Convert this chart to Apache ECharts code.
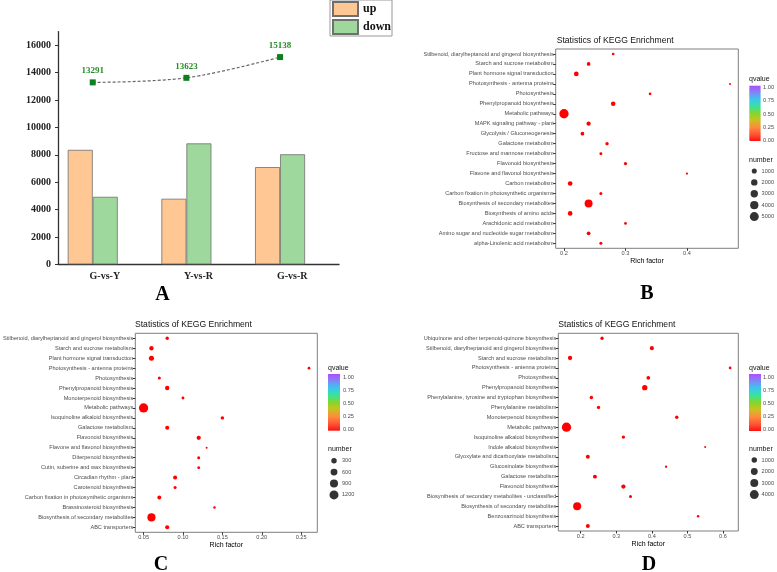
<!DOCTYPE html>
<html><head><meta charset="utf-8">
<script src="https://cdn.jsdelivr.net/npm/echarts@6/dist/echarts.min.js"></script>
<style>html,body{margin:0;padding:0;background:#fff}#c{width:777px;height:572px}</style>
</head><body><div id="c"></div>
<script>
// ---------- Panel A ----------
const aCategories = ['G-vs-Y', 'Y-vs-R', 'G-vs-R'];
const aUp = [8360, 4790, 7100];
const aDown = [4931, 8833, 8038];
const aTotal = [13291, 13623, 15138];
const aYTicks = [0, 2000, 4000, 6000, 8000, 10000, 12000, 14000, 16000];

// ---------- Panel B ----------
const bPathways = [
  'Stilbenoid, diarylheptanoid and gingerol biosynthesis',
  'Starch and sucrose metabolism',
  'Plant hormone signal transduction',
  'Photosynthesis - antenna proteins',
  'Photosynthesis',
  'Phenylpropanoid biosynthesis',
  'Metabolic pathways',
  'MAPK signaling pathway - plant',
  'Glycolysis / Gluconeogenesis',
  'Galactose metabolism',
  'Fructose and mannose metabolism',
  'Flavonoid biosynthesis',
  'Flavone and flavonol biosynthesis',
  'Carbon metabolism',
  'Carbon fixation in photosynthetic organisms',
  'Biosynthesis of secondary metabolites',
  'Biosynthesis of amino acids',
  'Arachidonic acid metabolism',
  'Amino sugar and nucleotide sugar metabolism',
  'alpha-Linolenic acid metabolism'
];
const bRich = [0.28, 0.24, 0.22, 0.47, 0.34, 0.28, 0.20, 0.24, 0.23, 0.27, 0.26, 0.30, 0.40, 0.21, 0.26, 0.24, 0.21, 0.30, 0.24, 0.26];
const bNumber = [80, 330, 780, 30, 80, 700, 5500, 560, 350, 220, 130, 180, 35, 760, 140, 3700, 740, 80, 340, 140];
const bXTicks = [0.2, 0.3, 0.4];
const bSizeBreaks = [1000, 2000, 3000, 4000, 5000];

// ---------- Panel C ----------
const cPathways = [
  'Stilbenoid, diarylheptanoid and gingerol biosynthesis',
  'Starch and sucrose metabolism',
  'Plant hormone signal transduction',
  'Photosynthesis - antenna proteins',
  'Photosynthesis',
  'Phenylpropanoid biosynthesis',
  'Monoterpenoid biosynthesis',
  'Metabolic pathways',
  'Isoquinoline alkaloid biosynthesis',
  'Galactose metabolism',
  'Flavonoid biosynthesis',
  'Flavone and flavonol biosynthesis',
  'Diterpenoid biosynthesis',
  'Cutin, suberine and wax biosynthesis',
  'Circadian rhythm - plant',
  'Carotenoid biosynthesis',
  'Carbon fixation in photosynthetic organisms',
  'Brassinosteroid biosynthesis',
  'Biosynthesis of secondary metabolites',
  'ABC transporters'
];
const cRich = [0.08, 0.06, 0.06, 0.26, 0.07, 0.08, 0.10, 0.05, 0.15, 0.08, 0.12, 0.13, 0.12, 0.12, 0.09, 0.09, 0.07, 0.14, 0.06, 0.08];
const cNumber = [51, 142, 236, 22, 36, 148, 32, 1300, 62, 108, 131, 10, 35, 34, 112, 38, 104, 16, 905, 110];
const cXTicks = [0.05, 0.10, 0.15, 0.20, 0.25];
const cSizeBreaks = [300, 600, 900, 1200];

// ---------- Panel D ----------
const dPathways = [
  'Ubiquinone and other terpenoid-quinone biosynthesis',
  'Stilbenoid, diarylheptanoid and gingerol biosynthesis',
  'Starch and sucrose metabolism',
  'Photosynthesis - antenna proteins',
  'Photosynthesis',
  'Phenylpropanoid biosynthesis',
  'Phenylalanine, tyrosine and tryptophan biosynthesis',
  'Phenylalanine metabolism',
  'Monoterpenoid biosynthesis',
  'Metabolic pathways',
  'Isoquinoline alkaloid biosynthesis',
  'Indole alkaloid biosynthesis',
  'Glyoxylate and dicarboxylate metabolism',
  'Glucosinolate biosynthesis',
  'Galactose metabolism',
  'Flavonoid biosynthesis',
  'Biosynthesis of secondary metabolites - unclassified',
  'Biosynthesis of secondary metabolites',
  'Benzoxazinoid biosynthesis',
  'ABC transporters'
];
const dRich = [0.26, 0.40, 0.17, 0.62, 0.39, 0.38, 0.23, 0.25, 0.47, 0.16, 0.32, 0.55, 0.22, 0.44, 0.24, 0.32, 0.34, 0.19, 0.53, 0.22];
const dNumber = [150, 350, 450, 50, 250, 930, 200, 155, 190, 4500, 160, 10, 340, 18, 330, 440, 95, 3050, 30, 345];
const dXTicks = [0.2, 0.3, 0.4, 0.5, 0.6];
const dSizeBreaks = [1000, 2000, 3000, 4000];

const qTicks = [0, 0.25, 0.5, 0.75, 1];

// ---------- helpers ----------
const SANS = 'Liberation Sans, Arial, sans-serif';
const SERIF = 'Liberation Serif, Times New Roman, serif';
function sizeScale(arr) {
  const mn = Math.min(...arr), mx = Math.max(...arr);
  return v => 2 + 7.3 * Math.sqrt(Math.max(0, v - mn) / (mx - mn));
}
function expand(arr) {
  const mn = Math.min(...arr), mx = Math.max(...arr), r = mx - mn;
  return [mn - 0.05 * r, mx + 0.05 * r];
}
const gradient = {
  type: 'linear', x: 0, y: 0, x2: 0, y2: 1,
  colorStops: [
    {offset: 0, color: '#B24BFF'}, {offset: 0.12, color: '#7F86F5'},
    {offset: 0.25, color: '#38C8EC'}, {offset: 0.38, color: '#3BE29A'},
    {offset: 0.5, color: '#84D62A'}, {offset: 0.62, color: '#C9C21F'},
    {offset: 0.75, color: '#FF8B3D'}, {offset: 0.88, color: '#FF5535'},
    {offset: 1, color: '#FF1010'}
  ]
};

const panels = [
  {path: bPathways, rich: bRich, num: bNumber, ticks: bXTicks, dec: 1, breaks: bSizeBreaks,
   grid: {left: 555.7, top: 49, width: 182.6, height: 199.3},
   lgrid: {left: 750, top: 165.3, width: 10, height: 57},
   qgrid: {left: 749.3, top: 87.7, width: 11.3, height: 52.6},
   bar: {x: 749.3, y: 85.7, width: 11.3, height: 55.3},
   title: [556.7, 41], qv: [749, 79], nb: [749, 160], letter: ['B', 647, 294]},
  {path: cPathways, rich: cRich, num: cNumber, ticks: cXTicks, dec: 2, breaks: cSizeBreaks,
   grid: {left: 133.3, top: 333.3, width: 184, height: 199},
   lgrid: {left: 329, top: 455, width: 10, height: 45.6},
   qgrid: {left: 328, top: 377, width: 12, height: 52.7},
   bar: {x: 328, y: 374, width: 12, height: 56.7},
   title: [135, 325], qv: [328, 368.3], nb: [328, 448.7], letter: ['C', 161, 565]},
  {path: dPathways, rich: dRich, num: dNumber, ticks: dXTicks, dec: 1, breaks: dSizeBreaks,
   grid: {left: 558.3, top: 333.3, width: 180, height: 197.7},
   lgrid: {left: 750, top: 454.3, width: 10, height: 46},
   qgrid: {left: 749, top: 377, width: 12, height: 52.7},
   bar: {x: 749, y: 374, width: 12, height: 57},
   title: [558.3, 325], qv: [749, 368.3], nb: [749, 449], letter: ['D', 649, 565]}
];

const grids = [
  {left: 58, top: 31.6, width: 281, height: 232.7},   // 0: panel A visible axes
  {left: 45.9, top: 31.6, width: 281, height: 232.7}  // 1: panel A data (offset as in reference)
];
const xAxes = [
  {gridIndex: 0, type: 'category', data: aCategories,
   axisLine: {lineStyle: {color: '#333', width: 1.3}},
   axisTick: {alignWithLabel: true, length: 3, lineStyle: {color: '#333'}},
   axisLabel: {interval: 0, margin: 7, color: '#222', fontFamily: SERIF, fontWeight: 'bold', fontSize: 10}},
  {gridIndex: 1, type: 'category', data: aCategories, show: false}
];
const yAxes = [
  {gridIndex: 0, type: 'value', min: 0, max: 17000, interval: 2000,
   axisLine: {show: true, lineStyle: {color: '#333', width: 1.3}},
   axisTick: {show: true, length: 3, customValues: aYTicks, lineStyle: {color: '#333'}},
   axisLabel: {customValues: aYTicks, margin: 7, color: '#222', fontFamily: SERIF, fontWeight: 'bold', fontSize: 10,
     formatter: v => String(Math.round(v))},
   splitLine: {show: false}},
  {gridIndex: 1, type: 'value', min: 0, max: 17000, show: false, splitLine: {show: false}}
];
const series = [
  {name: 'up', type: 'bar', xAxisIndex: 1, yAxisIndex: 1, data: aUp, barWidth: 25, barGap: '0%',
   itemStyle: {color: '#FFC794', borderColor: '#6f6f6f', borderWidth: 0.8}},
  {name: 'down', type: 'bar', xAxisIndex: 1, yAxisIndex: 1, data: aDown, barWidth: 25, barGap: '0%',
   itemStyle: {color: '#9ED89C', borderColor: '#6f6f6f', borderWidth: 0.8}},
  {name: 'total', type: 'line', xAxisIndex: 1, yAxisIndex: 1, data: aTotal, smooth: 0.35,
   symbol: 'rect', symbolSize: 6, itemStyle: {color: '#0E7F1E'},
   lineStyle: {color: '#666', width: 1.2, type: [3, 2]},
   label: {show: true, position: 'top', distance: 4, color: '#2A8A2A', fontFamily: SERIF, fontWeight: 'bold', fontSize: 9}}
];
const graphics = [
  {type: 'text', x: 162.5, y: 295, style: {text: 'A', font: 'bold 20px ' + SERIF, fill: '#000', textAlign: 'center', textVerticalAlign: 'middle'}}
];

panels.forEach((p, k) => {
  const gi = grids.length;
  grids.push(Object.assign({show: true, borderColor: '#7f7f7f', borderWidth: 1, backgroundColor: '#fff'}, p.grid));
  const ext = expand(p.rich);
  const sz = sizeScale(p.num);
  xAxes.push({gridIndex: gi, type: 'value', min: ext[0], max: ext[1],
    axisLine: {show: false}, splitLine: {show: false},
    axisTick: {show: true, length: 2.5, customValues: p.ticks, lineStyle: {color: '#333'}},
    axisLabel: {customValues: p.ticks, margin: 2.5, fontSize: 5.6, color: '#4D4D4D', fontFamily: SANS,
      formatter: v => Number(v).toFixed(p.dec)},
    name: 'Rich factor', nameLocation: 'middle', nameGap: 9,
    nameTextStyle: {fontSize: 7, color: '#000', fontFamily: SANS}});
  yAxes.push({gridIndex: gi, type: 'category', data: p.path, inverse: true,
    axisLine: {show: false}, splitLine: {show: false},
    axisTick: {show: true, alignWithLabel: true, length: 2.5, lineStyle: {color: '#333'}},
    axisLabel: {interval: 0, margin: 2, fontSize: 5.6, color: '#4D4D4D', fontFamily: SANS}});
  series.push({type: 'scatter', xAxisIndex: gi, yAxisIndex: gi,
    data: p.path.map((name, i) => [p.rich[i], name, p.num[i]]),
    symbolSize: v => sz(v[2]), itemStyle: {color: '#FF0000', opacity: 1}});

  // size legend
  const li = grids.length;
  grids.push(p.lgrid);
  xAxes.push({gridIndex: li, type: 'value', min: -1, max: 1, show: false});
  yAxes.push({gridIndex: li, type: 'category', data: p.breaks.map(String), inverse: true, position: 'right',
    axisLine: {show: false}, axisTick: {show: false},
    axisLabel: {interval: 0, margin: 3, fontSize: 5.6, color: '#4D4D4D', fontFamily: SANS}});
  series.push({type: 'scatter', xAxisIndex: li, yAxisIndex: li,
    data: p.breaks.map(b => [0, String(b), b]), symbolSize: v => sz(v[2]), itemStyle: {color: '#000'}, silent: true});

  // qvalue colorbar labels
  const qi = grids.length;
  grids.push(p.qgrid);
  xAxes.push({gridIndex: qi, type: 'value', min: 0, max: 1, show: false});
  yAxes.push({gridIndex: qi, type: 'value', min: 0, max: 1, position: 'right', z: 10,
    axisLine: {show: false}, splitLine: {show: false},
    axisTick: {show: true, inside: true, length: 2, customValues: qTicks, lineStyle: {color: '#fff'}},
    axisLabel: {customValues: qTicks, margin: 3, fontSize: 5.6, color: '#4D4D4D', fontFamily: SANS,
      formatter: v => Number(v).toFixed(2)}});

  graphics.push({type: 'rect', shape: p.bar, style: {fill: gradient}, z: 1});
  graphics.push({type: 'text', x: p.title[0], y: p.title[1],
    style: {text: 'Statistics of KEGG Enrichment', font: '8.6px ' + SANS, fill: '#111', textAlign: 'left', textVerticalAlign: 'middle'}});
  graphics.push({type: 'text', x: p.qv[0], y: p.qv[1],
    style: {text: 'qvalue', font: '7px ' + SANS, fill: '#111', textAlign: 'left', textVerticalAlign: 'middle'}});
  graphics.push({type: 'text', x: p.nb[0], y: p.nb[1],
    style: {text: 'number', font: '7px ' + SANS, fill: '#111', textAlign: 'left', textVerticalAlign: 'middle'}});
  graphics.push({type: 'text', x: p.letter[1], y: p.letter[2],
    style: {text: p.letter[0], font: 'bold 20px ' + SERIF, fill: '#000', textAlign: 'center', textVerticalAlign: 'middle'}});
});

const chart = echarts.init(document.getElementById('c'), null, {renderer: 'canvas'});
chart.setOption({
  animation: false,
  backgroundColor: '#fff',
  legend: {data: ['up', 'down'], left: 330, top: 0, orient: 'vertical', icon: 'rect',
    itemWidth: 25, itemHeight: 14, itemGap: 2, padding: [1, 1, 1, 2],
    borderColor: '#999', borderWidth: 1,
    textStyle: {fontFamily: SERIF, fontWeight: 'bold', fontSize: 12, color: '#111'}},
  grid: grids, xAxis: xAxes, yAxis: yAxes, series: series, graphic: graphics
});
</script></body></html>
